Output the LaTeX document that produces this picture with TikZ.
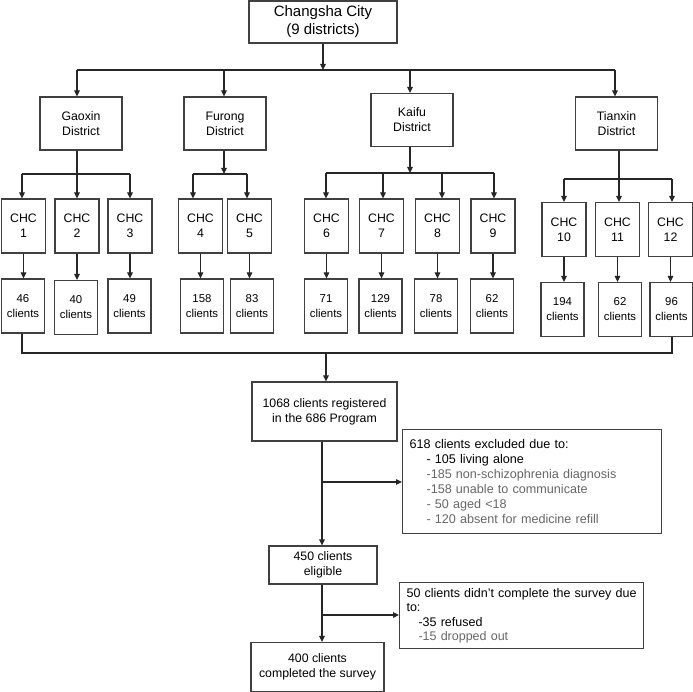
\documentclass[tikz,border=0pt]{standalone}
\usepackage{fontspec}
\setmainfont{Liberation Sans}
\usetikzlibrary{arrows.meta}
\begin{document}
\begin{tikzpicture}[x=1pt, y=-1pt,
  box/.style={draw=black!75, line width=1.1pt, inner sep=0pt, align=center, font=\fontsize{12.3}{15}\selectfont},
  dbox/.style={box, minimum width=82pt, minimum height=53pt},
  chcbox/.style={box, minimum width=44pt, minimum height=54pt},
  numbox/.style={box, minimum width=43pt, minimum height=54pt, font=\fontsize{11.4}{15}\selectfont},
  notebox/.style={box, anchor=north west, align=left, inner xsep=7pt},
  line/.style={line width=1.1pt, black!85},
  arr/.style={line, -{Triangle[length=6pt,width=5.5pt]}},
  faint/.style={black!60}]
\useasboundingbox (0,0) rectangle (693,692);

\node[box, minimum width=148pt, minimum height=42pt, font=\fontsize{15}{18}\selectfont] (city) at (323,22){Changsha City\\(9 districts)};

\node[dbox] (gaoxin) at (81,123.5){Gaoxin\\District};
\node[dbox] (furong) at (225,123.5){Furong\\District};
\node[dbox] (kaifu) at (412,120){Kaifu\\District};
\node[dbox] (tianxin) at (616.5,123.5){Tianxin\\District};

\coordinate (t0) at (323,70);
\coordinate (tg) at (77,70);
\coordinate (tf) at (224,70);
\coordinate (tk) at (410,70);
\coordinate (tt) at (615,70);
\draw[arr](city) -- (t0);
\draw[line](tg) -- (tt);
\draw[arr](tg) -- (tg |- gaoxin.north);
\draw[arr](tf) -- (tf |- furong.north);
\draw[arr](tk) -- (tk |- kaifu.north);
\draw[arr](tt) -- (tt |- tianxin.north);

\node[chcbox] (chc1) at (23.5,226){CHC\\1};
\node[chcbox] (chc2) at (77,226){CHC\\2};
\node[chcbox] (chc3) at (130,226){CHC\\3};
\node[chcbox] (chc4) at (200.5,226){CHC\\4};
\node[chcbox] (chc5) at (249.5,226){CHC\\5};
\node[chcbox] (chc6) at (326.5,226){CHC\\6};
\node[chcbox] (chc7) at (381.5,226){CHC\\7};
\node[chcbox] (chc8) at (437.5,226){CHC\\8};
\node[chcbox] (chc9) at (493,226){CHC\\9};
\node[chcbox] (chc10) at (564,229.5){CHC\\10};
\node[chcbox] (chc11) at (617.5,229.5){CHC\\11};
\node[chcbox] (chc12) at (670.5,229.5){CHC\\12};

% district -> CHC
\coordinate (g0) at (77,174);
\coordinate (g1) at (22,174);
\coordinate (g3) at (130,174);
\draw[line](g0 |- gaoxin.south) -- (g0);
\draw[line](g1) -- (g3);
\draw[arr](g1) -- (g1 |- chc1.north);
\draw[arr](g0) -- (g0 |- chc2.north);
\draw[arr](g3) -- (g3 |- chc3.north);

\coordinate (f0) at (224,174);
\coordinate (f1) at (193,174);
\coordinate (f2) at (247,174);
\draw[arr](f0 |- furong.south) -- (f0);
\draw[line](f1) -- (f2);
\draw[arr](f1) -- (f1 |- chc4.north);
\draw[arr](f2) -- (f2 |- chc5.north);

\coordinate (k0) at (410,173);
\coordinate (k1) at (326,173);
\coordinate (k2) at (383,173);
\coordinate (k3) at (442,173);
\coordinate (k4) at (494,173);
\draw[arr](k0 |- kaifu.south) -- (k0);
\draw[line](k1) -- (k4);
\draw[arr](k1) -- (k1 |- chc6.north);
\draw[arr](k2) -- (k2 |- chc7.north);
\draw[arr](k3) -- (k3 |- chc8.north);
\draw[arr](k4) -- (k4 |- chc9.north);

\coordinate (s0) at (619,179);
\coordinate (s1) at (564,179);
\coordinate (s3) at (672,179);
\draw[line](s0 |- tianxin.south) -- (s0);
\draw[line](s1) -- (s3);
\draw[arr](s1) -- (s1 |- chc10.north);
\draw[arr](s0) -- (s0 |- chc11.north);
\draw[arr](s3) -- (s3 |- chc12.north);

\node[numbox] (n1) at (23,306){46\\clients};
\node[numbox] (n2) at (76,307.5){40\\clients};
\node[numbox] (n3) at (129.5,306){49\\clients};
\node[numbox] (n4) at (202,306){158\\clients};
\node[numbox] (n5) at (252,306){83\\clients};
\node[numbox] (n6) at (326,306){71\\clients};
\node[numbox] (n7) at (380.5,306){129\\clients};
\node[numbox] (n8) at (436,306){78\\clients};
\node[numbox] (n9) at (492,306){62\\clients};
\node[numbox] (n10) at (562.5,309.5){194\\clients};
\node[numbox] (n11) at (620,309.5){62\\clients};
\node[numbox] (n12) at (671.5,309.5){96\\clients};

\foreach \i in {1,...,12}
  \draw[arr](chc\i) -- (chc\i |- n\i.north);

% pooled sample
\node[box, minimum width=145pt, minimum height=59pt] (reg) at (324.5,411.5){1068 clients registered\\in the 686 Program};
\coordinate (b1) at (22,353);
\coordinate (b2) at (672,353);
\coordinate (b0) at (326,353);
\draw[line](b1 |- n1.south) -- (b1) -- (b2) -- (b2 |- n12.south);
\draw[arr](b0) -- (b0 |- reg.north);

\node[notebox, text width=245pt, minimum height=104pt, font=\fontsize{12.6}{15}\selectfont] (excl) at (402,429){618 clients excluded due to:\\
  \hspace{17pt}- 105 living alone\\
  \hspace{17pt}{\color{black!60}-185 non-schizophrenia diagnosis}\\
  \hspace{17pt}{\color{black!60}-158 unable to communicate}\\
  \hspace{17pt}{\color{black!60}- 50 aged <18}\\
  \hspace{17pt}{\color{black!60}- 120 absent for medicine refill}};

\node[box, minimum width=108pt, minimum height=38pt] (elig) at (323,565){450 clients\\eligible};
\coordinate (e0) at (322,482);
\draw[arr](e0 |- reg.south) -- (e0 |- elig.north);
\draw[arr](e0) -- (excl.west |- e0);

\node[notebox, text width=230pt, minimum height=66pt, font=\fontsize{12.5}{14.5}\selectfont] (drop) at (399,582){50 clients didn’t complete the survey due\\to:\\
  \hspace{12pt}-35 refused\\
  \hspace{12pt}{\color{black!60}-15 dropped out}};

\node[box, minimum width=133pt, minimum height=49pt] (done) at (317.5,667){400 clients\\completed the survey};
\coordinate (d0) at (322,615);
\draw[arr](e0 |- elig.south) -- (e0 |- done.north);
\draw[arr](d0) -- (drop.west |- d0);
\end{tikzpicture}
\end{document}
